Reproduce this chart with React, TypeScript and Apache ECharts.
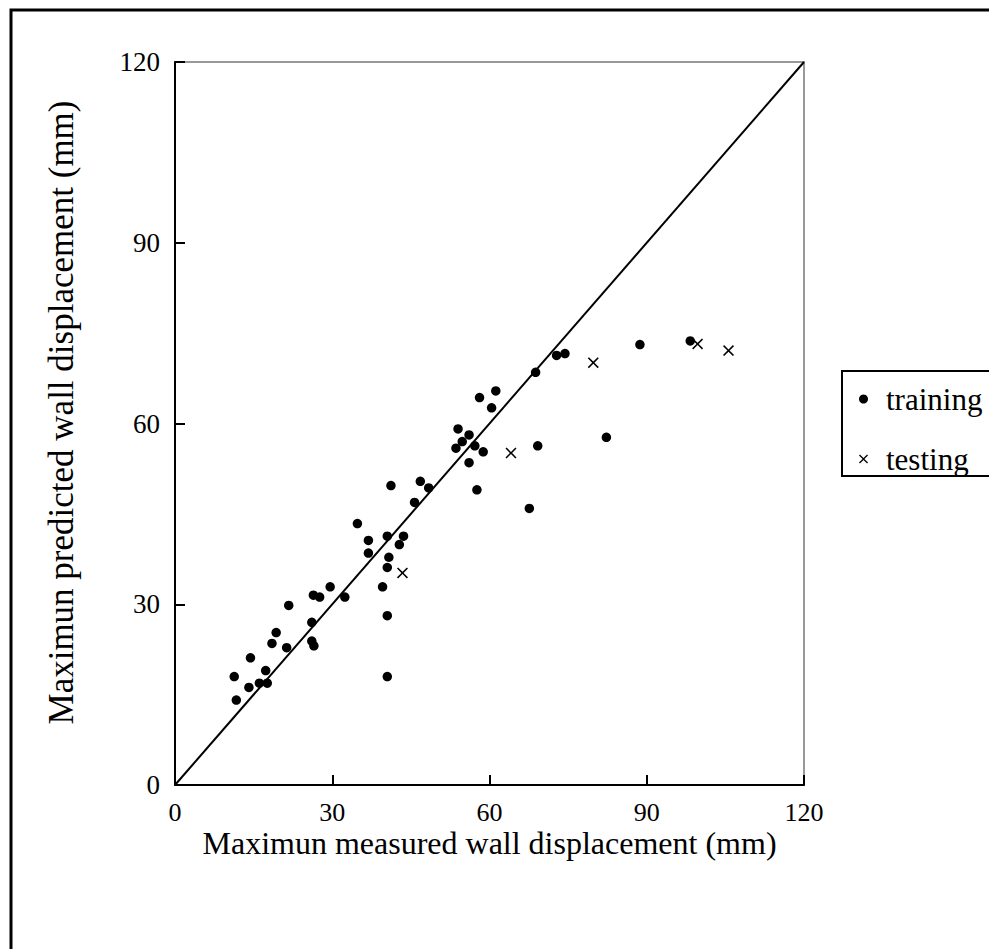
import React, { useEffect, useRef } from "react";
import * as echarts from "echarts";

const trainingMeasured = [
  11.3, 11.7, 14.1, 14.4, 16.1, 17.6, 17.3, 18.5, 19.3, 21.3, 21.7, 26.1, 26.1, 26.5, 26.4, 27.6,
  29.6, 32.4, 34.8, 36.9, 36.9, 40.5, 43.6, 42.8, 40.8, 40.5, 39.6, 40.5, 40.5, 45.7, 41.2, 46.8,
  48.4, 54.0, 54.8, 56.1, 53.6, 57.2, 58.8, 56.1, 57.6, 60.4, 58.1, 61.2, 68.8, 72.8, 74.4, 88.7,
  98.3, 69.2, 82.3, 67.6,
];
const trainingPredicted = [
  18.0, 14.1, 16.2, 21.1, 16.9, 16.9, 19.0, 23.5, 25.3, 22.8, 29.8, 27.0, 23.9, 23.1, 31.5, 31.2,
  32.9, 31.2, 43.4, 40.6, 38.5, 41.3, 41.3, 39.9, 37.8, 36.1, 32.9, 28.1, 18.0, 46.9, 49.7, 50.4,
  49.3, 59.1, 57.0, 58.1, 55.9, 56.3, 55.3, 53.5, 49.0, 62.6, 64.3, 65.4, 68.5, 71.3, 71.6, 73.1,
  73.7, 56.3, 57.7, 45.9,
];
const testingMeasured = [43.4, 64.1, 79.8, 99.7, 105.6];
const testingPredicted = [35.2, 55.1, 70.1, 73.2, 72.1];
const lineX = [0, 120];
const lineY = [0, 120];
const axisTicks = [0, 30, 60, 90, 120];

const FONT = "Liberation Serif";
const CROSS = "path://M0,1L1,0L5,4L9,0L10,1L6,5L10,9L9,10L5,6L1,10L0,9L4,5Z";

export default function App() {
  const ref = useRef<HTMLDivElement>(null);
  useEffect(() => {
    if (!ref.current) return;
    const chart = echarts.init(ref.current, null, { renderer: "svg" });
    const training = trainingMeasured.map((x, i) => [x, trainingPredicted[i]]);
    const testing = testingMeasured.map((x, i) => [x, testingPredicted[i]]);
    const diag = lineX.map((x, i) => [x, lineY[i]]);
    chart.setOption({
      animation: false,
      backgroundColor: "#fff",
      textStyle: { fontFamily: FONT },
      grid: {
        left: 175,
        top: 62,
        width: 629,
        height: 723,
        show: true,
        borderColor: "#999",
        borderWidth: 2,
        backgroundColor: "transparent",
      },
      xAxis: {
        type: "value",
        min: axisTicks[0],
        max: axisTicks[axisTicks.length - 1],
        interval: 30,
        name: "Maximun measured wall displacement (mm)",
        nameLocation: "middle",
        nameGap: 45,
        nameMoveOverlap: false,
        nameTextStyle: { fontFamily: FONT, fontSize: 32, color: "#000", lineHeight: 26 },
        axisLine: { lineStyle: { color: "#000", width: 2 } },
        axisTick: { inside: true, length: 10, lineStyle: { color: "#000", width: 2 } },
        axisLabel: {
          fontFamily: FONT,
          fontSize: 26,
          color: "#000",
          margin: 15,
          lineHeight: 24,
        },
        splitLine: { show: false },
      },
      yAxis: {
        type: "value",
        min: axisTicks[0],
        max: axisTicks[axisTicks.length - 1],
        interval: 30,
        name: "Maximun predicted wall displacement (mm)",
        nameLocation: "middle",
        nameGap: 96,
        nameTextStyle: {
          fontFamily: FONT,
          fontSize: 35,
          color: "#000",
          padding: [0, 0, 0, 22],
        },
        axisLine: { lineStyle: { color: "#000", width: 2 } },
        axisTick: { inside: true, length: 10, lineStyle: { color: "#000", width: 2 } },
        axisLabel: { fontFamily: FONT, fontSize: 27, color: "#000", margin: 15 },
        splitLine: { show: false },
      },
      legend: {
        orient: "vertical",
        left: 854,
        top: 378,
        itemWidth: 9,
        itemHeight: 9,
        itemGap: 28,
        textStyle: {
          fontFamily: FONT,
          fontSize: 31,
          color: "#000",
          lineHeight: 32,
          padding: [0, 0, 0, 13],
        },
        data: [
          { name: "training", icon: "circle", itemStyle: { color: "#000" } },
          { name: "testing", icon: CROSS, itemStyle: { color: "#000" } },
        ],
      },
      graphic: [
        {
          type: "rect",
          shape: { x: 11, y: 10, width: 1000, height: 1000 },
          style: { fill: "none", stroke: "#000", lineWidth: 3 },
          silent: true,
        },
        {
          type: "rect",
          shape: { x: 842, y: 371, width: 200, height: 105 },
          style: { fill: "none", stroke: "#000", lineWidth: 2 },
          silent: true,
        },
      ],
      series: [
        {
          type: "line",
          data: diag,
          symbol: "none",
          lineStyle: { color: "#000", width: 2 },
          silent: true,
          z: 1,
        },
        {
          name: "training",
          type: "scatter",
          data: training,
          symbol: "circle",
          symbolSize: 9.5,
          itemStyle: { color: "#000", opacity: 1 },
          z: 3,
        },
        {
          name: "testing",
          type: "scatter",
          data: testing,
          symbol: CROSS,
          symbolSize: 11,
          itemStyle: { color: "#000", opacity: 1 },
          z: 3,
        },
      ],
    });
    return () => chart.dispose();
  }, []);
  return (
    <div
      ref={ref}
      style={{ position: "fixed", left: 0, top: 0, width: 989, height: 949 }}
    />
  );
}
